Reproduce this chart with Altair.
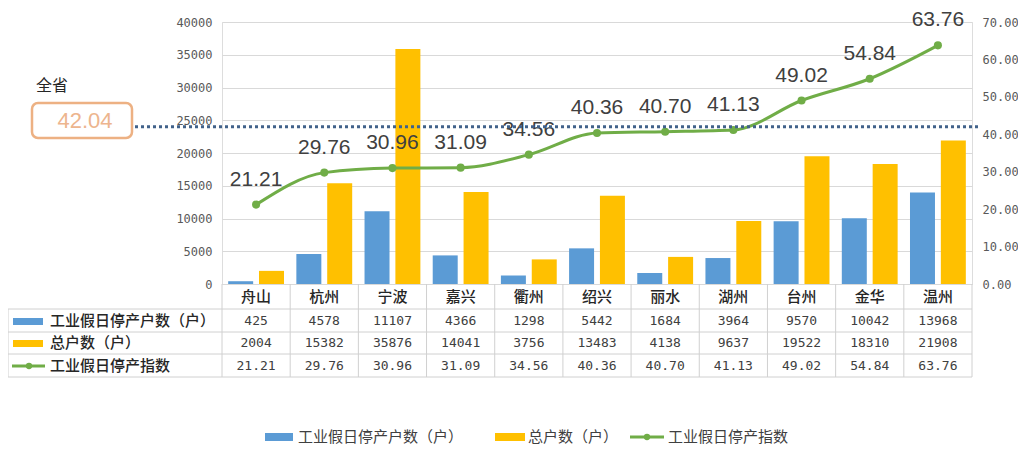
import altair as alt
import pandas as pd

cities = ["舟山", "杭州", "宁波", "嘉兴", "衢州", "绍兴", "丽水", "湖州", "台州", "金华", "温州"]
stopped = [425, 4578, 11107, 4366, 1298, 5442, 1684, 3964, 9570, 10042, 13968]
total = [2004, 15382, 35876, 14041, 3756, 13483, 4138, 9637, 19522, 18310, 21908]
index_vals = [21.21, 29.76, 30.96, 31.09, 34.56, 40.36, 40.70, 41.13, 49.02, 54.84, 63.76]
series = ["工业假日停产户数（户）", "总户数（户）", "工业假日停产指数"]
province_label = "全省"
province_value = 42.04
left_ticks = [0, 5000, 10000, 15000, 20000, 25000, 30000, 35000, 40000]
right_ticks = [0, 10, 20, 30, 40, 50, 60, 70]

BLUE = "#5B9BD5"
YELLOW = "#FFC000"
GREEN = "#70AD47"
GRIDC = "#D9D9D9"
TXT = "#262626"
CJK = "Noto Sans CJK SC"
MONO = "DejaVu Sans Mono"

W, H = 750, 262
OY = 1  # shift of origin relative to earlier layout

bars_df = pd.DataFrame(
    [{"city": c, "series": series[0], "value": v} for c, v in zip(cities, stopped)]
    + [{"city": c, "series": series[1], "value": v} for c, v in zip(cities, total)]
)
idx_df = pd.DataFrame({"city": cities, "idx": index_vals,
                       "lab": [f"{v:.2f}" for v in index_vals]})
tbl_df = pd.DataFrame({"city": cities,
                       "s": [str(v) for v in stopped],
                       "t": [str(v) for v in total],
                       "i": [f"{v:.2f}" for v in index_vals]})
prov_df = pd.DataFrame({"name": [province_label], "idx": [province_value],
                        "lab": [f"{province_value:.2f}"]})
leg_df = pd.DataFrame({"name": series})

xscale = alt.Scale(domain=cities, paddingInner=0, paddingOuter=0)
X = alt.X("city:N", scale=xscale, axis=None, sort=cities)

bars = alt.Chart(bars_df).mark_bar().encode(
    x=X,
    xOffset=alt.XOffset("series:N", sort=series[:2],
                        scale=alt.Scale(paddingInner=0.19, paddingOuter=0.2)),
    y=alt.Y("value:Q", scale=alt.Scale(domain=[0, 40000], nice=False),
            axis=alt.Axis(orient="left", values=left_ticks, format="d", grid=True,
                          gridColor=GRIDC, domain=False, ticks=False, labelFont=MONO,
                          labelFontSize=12, labelColor="#595959", labelPadding=10,
                          labelOverlap=False, title=None)),
    color=alt.Color("series:N", scale=alt.Scale(domain=series[:2], range=[BLUE, YELLOW]),
                    legend=None),
)

r_axis = alt.Axis(orient="right", values=right_ticks, format=".2f", grid=False,
                  domain=False, ticks=False, labelFont=MONO, labelFontSize=12,
                  labelColor="#595959", labelPadding=10, labelOverlap=False,
                  tickCount=8, title=None)
YR = alt.Y("idx:Q", scale=alt.Scale(domain=[0, 70], nice=False), axis=r_axis)
base_idx = alt.Chart(idx_df).encode(x=X, y=YR)
line = base_idx.mark_line(interpolate="monotone", color=GREEN, strokeWidth=3)
pts = base_idx.mark_circle(color=GREEN, size=65, opacity=1)
labs = base_idx.mark_text(dy=-25, fontSize=21, font="Liberation Sans",
                          color="#404040").encode(text="lab:N")
prov_rule = alt.Chart(prov_df).mark_rule(color="#41628A", strokeWidth=3,
                                          strokeDash=[3, 3]).encode(
    y=YR, x=alt.value(-87), x2=alt.value(758))
right_layer = alt.layer(line, pts, labs, prov_rule)

# province box
box = alt.Chart(prov_df).mark_rect(fill="white", stroke="#EDB183", strokeWidth=2.5,
                                   cornerRadius=6).encode(
    x=alt.value(-190), x2=alt.value(-90), y=alt.value(82 - OY), y2=alt.value(117 - OY))
box_txt = alt.Chart(prov_df).mark_text(fontSize=22, font="Liberation Sans",
                                       color="#EDB58E").encode(
    x=alt.value(-137), y=alt.value(100 - OY), text="lab:N")
prov_name = alt.Chart(prov_df).mark_text(fontSize=16, font=CJK, color=TXT,
                                         align="left").encode(
    x=alt.value(-186), y=alt.value(65 - OY), text="name:N")

# table
LC = "#D0D0D0"
hlines = [288 - OY, 311 - OY, 333 - OY, 356 - OY]
hl_df = pd.DataFrame({"y": hlines})
hrules = alt.Chart(hl_df).mark_rule(color=LC, strokeWidth=1).encode(
    y=alt.Y("y:Q", scale=None), x=alt.value(-214), x2=alt.value(W))
vrules = alt.Chart(tbl_df).mark_rule(color=LC, strokeWidth=1).encode(
    x=alt.X("city:N", scale=xscale, axis=None, sort=cities, bandPosition=0),
    y=alt.value(H), y2=alt.value(356 - OY))
vend = alt.Chart(prov_df).mark_rule(color=LC, strokeWidth=1).encode(
    x=alt.value(W), y=alt.value(H), y2=alt.value(356 - OY))
vleft = alt.Chart(prov_df).mark_rule(color=LC, strokeWidth=1).encode(
    x=alt.value(-214), y=alt.value(288 - OY), y2=alt.value(356 - OY))

city_txt = alt.Chart(tbl_df).mark_text(fontSize=15, font=CJK, color=TXT,
                                       fontWeight=500).encode(
    x=X, y=alt.value(276 - OY), text="city:N")
row_s = alt.Chart(tbl_df).mark_text(fontSize=13, font=MONO, color="#404040").encode(
    x=X, y=alt.value(300 - OY), text="s:N")
row_t = alt.Chart(tbl_df).mark_text(fontSize=13, font=MONO, color="#404040").encode(
    x=X, y=alt.value(322 - OY), text="t:N")
row_i = alt.Chart(tbl_df).mark_text(fontSize=13, font=MONO, color="#404040").encode(
    x=X, y=alt.value(345 - OY), text="i:N")

row_names = []
for i, yy in enumerate([300, 322, 345]):
    d = leg_df.iloc[[i]]
    row_names.append(alt.Chart(d).mark_text(fontSize=15, font=CJK, color=TXT,
                                            align="left", fontWeight=500).encode(
        x=alt.value(-172), y=alt.value(yy - OY), text="name:N"))
sw1 = alt.Chart(leg_df.iloc[[0]]).mark_rect(color=BLUE).encode(
    x=alt.value(-209), x2=alt.value(-179), y=alt.value(297 - OY), y2=alt.value(304 - OY))
sw2 = alt.Chart(leg_df.iloc[[1]]).mark_rect(color=YELLOW).encode(
    x=alt.value(-209), x2=alt.value(-179), y=alt.value(319 - OY), y2=alt.value(326 - OY))
sw3 = alt.Chart(leg_df.iloc[[2]]).mark_rule(color=GREEN, strokeWidth=3).encode(
    x=alt.value(-210), x2=alt.value(-177), y=alt.value(345 - OY))
sw3d = alt.Chart(leg_df.iloc[[2]]).mark_circle(color=GREEN, size=40, opacity=1).encode(
    x=alt.value(-193), y=alt.value(345 - OY))

# bottom legend
LY = 416 - OY
lg = [
    alt.Chart(leg_df.iloc[[0]]).mark_rect(color=BLUE).encode(
        x=alt.value(43), x2=alt.value(71), y=alt.value(LY - 4), y2=alt.value(LY + 4)),
    alt.Chart(leg_df.iloc[[0]]).mark_text(fontSize=15, font=CJK, color="#404040",
                                          align="left").encode(
        x=alt.value(76), y=alt.value(LY), text="name:N"),
    alt.Chart(leg_df.iloc[[1]]).mark_rect(color=YELLOW).encode(
        x=alt.value(273), x2=alt.value(303), y=alt.value(LY - 4), y2=alt.value(LY + 4)),
    alt.Chart(leg_df.iloc[[1]]).mark_text(fontSize=15, font=CJK, color="#404040",
                                          align="left").encode(
        x=alt.value(306), y=alt.value(LY), text="name:N"),
    alt.Chart(leg_df.iloc[[2]]).mark_rule(color=GREEN, strokeWidth=3).encode(
        x=alt.value(408), x2=alt.value(442), y=alt.value(LY)),
    alt.Chart(leg_df.iloc[[2]]).mark_circle(color=GREEN, size=40, opacity=1).encode(
        x=alt.value(425), y=alt.value(LY)),
    alt.Chart(leg_df.iloc[[2]]).mark_text(fontSize=15, font=CJK, color="#404040",
                                          align="left").encode(
        x=alt.value(446), y=alt.value(LY), text="name:N"),
]

chart = alt.layer(
    bars, right_layer, box, box_txt, prov_name,
    hrules, vrules, vend, vleft, city_txt, row_s, row_t, row_i,
    *row_names, sw1, sw2, sw3, sw3d, *lg
).resolve_scale(y="independent").properties(
    width=W, height=H,
    autosize=alt.AutoSizeParams(type="none"),
    padding={"left": 214, "top": 14, "right": 46, "bottom": 164},
).configure_view(stroke=None).configure(background="white")

chart.save("out.html", embed_options={"renderer": "svg", "actions": False})
